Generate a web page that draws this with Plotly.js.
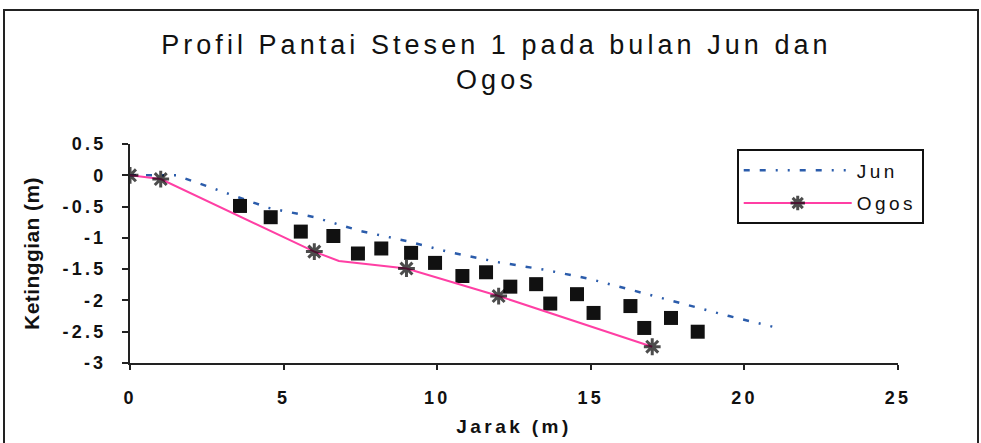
<!DOCTYPE html>
<html>
<head>
<meta charset="utf-8">
<script src="https://cdn.plot.ly/plotly-3.0.1.min.js"></script>
<style>
  html, body { margin: 0; padding: 0; background: #fff; }
  #wrap { position: relative; width: 981px; height: 443px; overflow: hidden; }
  #chart { position: absolute; left: 0; top: 0; width: 981px; height: 443px; }
  #frame { position: absolute; left: 3px; top: 9px; width: 972px; height: 460px; border: 2px solid #222; pointer-events: none; }
  svg text { letter-spacing: 0.18em; }
  svg text.gtitle { letter-spacing: 0.15em; }
  svg text.ytitle { letter-spacing: 0.02em; }
</style>
</head>
<body>
<div id="wrap">
  <div id="chart"></div>
  <div id="frame"></div>
</div>
<script>
// ---- data ----
var junX = [0, 1.5, 3, 4.5, 6, 7.5, 9, 10.5, 12, 13.5, 15, 16.5, 18, 19.5, 21];
var junY = [0, 0, -0.26, -0.52, -0.67, -0.89, -1.05, -1.24, -1.39, -1.51, -1.66, -1.86, -2.06, -2.25, -2.43];

var ogosX = [0, 1, 6, 6.8, 9, 12, 17];
var ogosY = [0, -0.06, -1.22, -1.37, -1.49, -1.93, -2.74];

var squareX = [3.58, 4.58, 5.56, 6.62, 7.42, 8.18, 9.15, 9.93, 10.82, 11.59, 12.38, 13.22, 13.68, 14.55, 15.09, 16.29, 16.74, 17.61, 18.48];
var squareY = [-0.49, -0.67, -0.90, -0.97, -1.25, -1.17, -1.24, -1.40, -1.61, -1.55, -1.78, -1.74, -2.05, -1.90, -2.20, -2.09, -2.44, -2.28, -2.50];

var xTickVals = [0, 5, 10, 15, 20, 25];
var xTickText = ['0', '5', '10', '15', '20', '25'];
var yTickVals = [0.5, 0, -0.5, -1, -1.5, -2, -2.5, -3];
var yTickText = ['0.5', '0', '-0.5', '-1', '-1.5', '-2', '-2.5', '-3'];

var titleText = 'Profil Pantai Stesen 1 pada bulan Jun dan<br>Ogos';
var xTitle = 'Jarak (m)';
var yTitle = 'Ketinggian (m)';
var seriesNames = ['Jun', 'Ogos'];

// ---- traces ----
var ogosMarkerSizes = ogosX.map(function (v, i) { return i === 3 ? 0 : 14; });

var traces = [
  {
    x: junX, y: junY, name: seriesNames[0], type: 'scatter', mode: 'lines',
    legendgroup: 'a',
    line: { color: '#2b5cab', width: 2.5, dash: '6px,10px,6px,10px,2px,10px,2px,10px' }
  },
  {
    x: squareX, y: squareY, type: 'scatter', mode: 'markers', showlegend: false,
    hoverinfo: 'skip',
    marker: { symbol: 'square', size: 14, color: '#111' }
  },
  {
    x: ogosX, y: ogosY, name: seriesNames[1], type: 'scatter', mode: 'lines+markers',
    legendgroup: 'b',
    line: { color: '#ff3fa4', width: 2 },
    marker: { symbol: 'asterisk-open', size: ogosMarkerSizes, color: '#000', line: { color: '#000', width: 3 } }
  }
];

var fontFam = '"Liberation Sans", Arial, sans-serif';

var layout = {
  width: 981, height: 443,
  paper_bgcolor: '#fff', plot_bgcolor: '#fff',
  margin: { l: 130, r: 83, t: 144, b: 80, pad: 0 },
  font: { family: fontFam, color: '#111', size: 17 },
  title: {
    text: titleText,
    font: { family: fontFam, size: 27, color: '#111' },
    xref: 'container', x: 0.506, xanchor: 'center',
    yref: 'container', y: 0.878, yanchor: 'top'
  },
  showlegend: true,
  legend: {
    x: 0.79, y: 0.975, xanchor: 'left', yanchor: 'top',
    bordercolor: '#111', borderwidth: 2, bgcolor: '#fff',
    font: { family: fontFam, size: 19, color: '#111' },
    traceorder: 'grouped', tracegroupgap: 5, itemwidth: 108
  },
  xaxis: {
    range: [0, 25], tickvals: xTickVals, ticktext: xTickText,
    showgrid: false, zeroline: false,
    showline: true, linecolor: '#222', linewidth: 2,
    ticks: 'outside', ticklen: 5, tickwidth: 2, tickcolor: '#222',
    ticklabelstandoff: 12,
    tickfont: { family: fontFam, size: 18, color: '#111', weight: 'bold' },
    title: { text: xTitle, standoff: 13, font: { family: fontFam, size: 19, color: '#111', weight: 'bold' } }
  },
  yaxis: {
    range: [-3, 0.5], tickvals: yTickVals, ticktext: yTickText,
    showgrid: false, zeroline: false,
    showline: true, linecolor: '#222', linewidth: 2,
    ticks: 'outside', ticklen: 6, tickwidth: 2, tickcolor: '#222',
    ticklabelstandoff: 12,
    tickfont: { family: fontFam, size: 18, color: '#111', weight: 'bold' },
    title: { text: yTitle, standoff: 17, font: { family: fontFam, size: 21, color: '#111', weight: 'bold' } }
  }
};

Plotly.newPlot('chart', traces, layout, { staticPlot: true, displayModeBar: false });
</script>
</body>
</html>
